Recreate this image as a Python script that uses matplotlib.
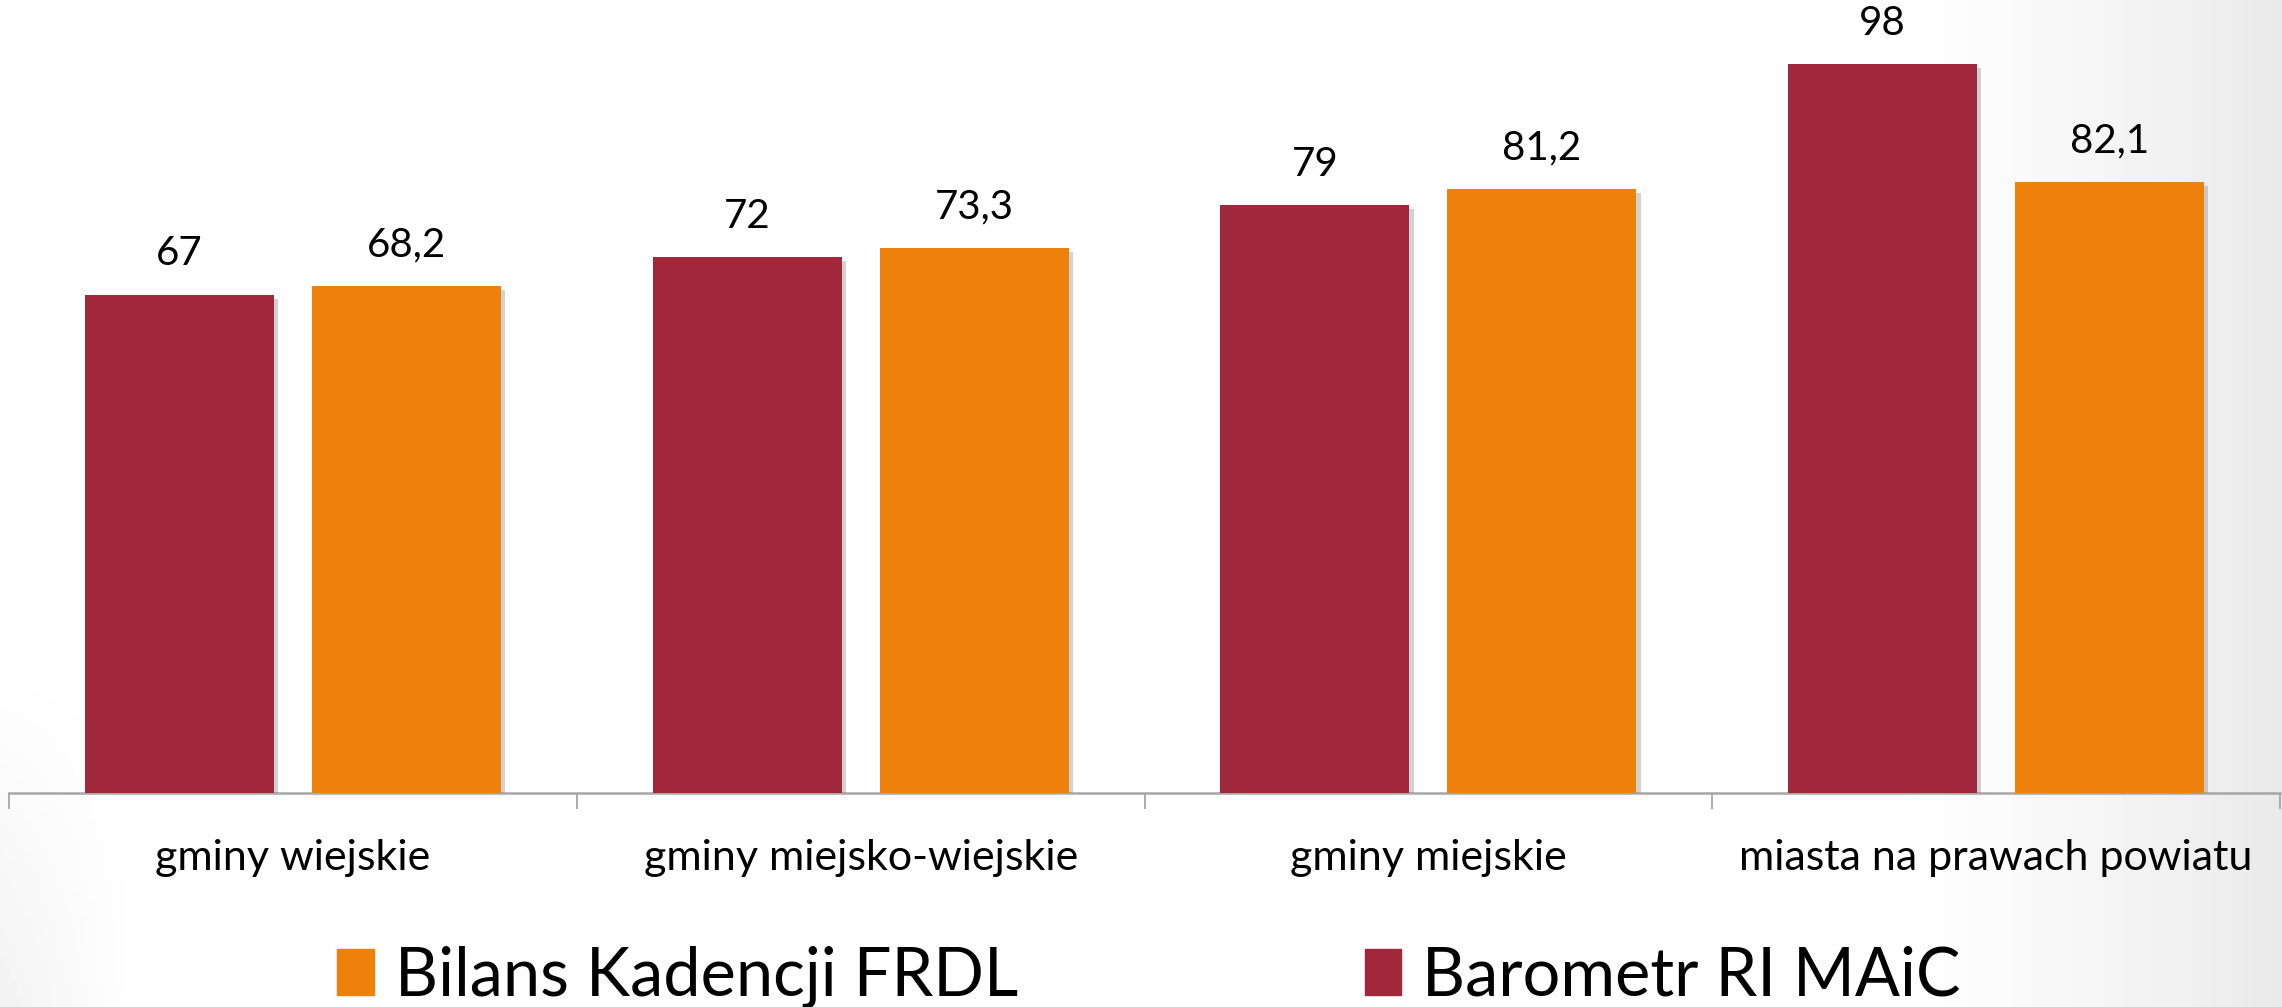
import matplotlib
matplotlib.use("Agg")
import matplotlib.pyplot as plt
import numpy as np
from matplotlib.patches import Patch
import matplotlib.patheffects as pe

categories = ["gminy wiejskie", "gminy miejsko-wiejskie", "gminy miejskie", "miasta na prawach powiatu"]
barometr = [67, 72, 79, 98]
bilans = [68.2, 73.3, 81.2, 82.1]
series_names = ["Bilans Kadencji FRDL", "Barometr RI MAiC"]

C_MAROON = "#A0283A"
C_ORANGE = "#EE800C"

plt.rcParams['font.family'] = ['Lato', 'DejaVu Sans']

W, H = 2282, 1007
fig = plt.figure(figsize=(W / 100, H / 100), dpi=100)

# background gradient (slide background)
bg = fig.add_axes([0, 0, 1, 1], zorder=-10)
xg = np.linspace(0, 1, 400)
yg = np.linspace(0, 1, 200)
XX, YY = np.meshgrid(xg, yg)
right = np.clip((XX - 0.82) / 0.18, 0, 1) ** 1.4 * 0.085
left = np.clip((0.06 - XX) / 0.06, 0, 1) * np.clip((0.35 - YY) / 0.35, 0, 1) * 0.05
img = 1 - right - left
bg.imshow(img, cmap="gray", vmin=0, vmax=1, aspect="auto",
          extent=[0, 1, 0, 1], origin="lower")
bg.set_axis_off()

ax = fig.add_axes([9 / W, 1 - 793 / H, 2271 / W, 105 * 7.44 / H])
ax.patch.set_alpha(0)
x = np.arange(len(categories))
bw = 0.333
off = 0.2
shadow = [pe.SimplePatchShadow(offset=(3, -3), shadow_rgbFace="gray", alpha=0.35), pe.Normal()]
b1 = ax.bar(x - off, barometr, bw, color=C_MAROON, zorder=3)
b2 = ax.bar(x + off, bilans, bw, color=C_ORANGE, zorder=3)
for bars in (b1, b2):
    for r in bars:
        r.set_path_effects(shadow)

def fmt(v):
    s = f"{v:g}"
    return s.replace(".", ",")

for bars, vals in ((b1, barometr), (b2, bilans)):
    for r, v in zip(bars, vals):
        ax.annotate(fmt(v), (r.get_x() + r.get_width() / 2, v), xytext=(0, 16),
                    textcoords="offset points", ha="center", va="bottom",
                    fontsize=29, color="black")

ax.set_xlim(-0.5, len(categories) - 0.5)
ax.set_ylim(0, 105)
ax.set_yticks([])
for s in ("left", "right", "top"):
    ax.spines[s].set_visible(False)
ax.spines["bottom"].set_color("#A6A6A6")
ax.spines["bottom"].set_linewidth(1.8)
ax.set_xticks(x)
ax.set_xticklabels(categories, fontsize=31)
ax.tick_params(axis="x", which="major", length=0, pad=33)
ax.set_xticks(np.arange(-0.5, len(categories), 1), minor=True)
ax.tick_params(axis="x", which="minor", length=11.5, width=1.3, color="#A6A6A6", direction="out")

handles = [Patch(color=C_ORANGE), Patch(color=C_MAROON)]
fig.legend(handles, series_names, loc="lower left", bbox_to_anchor=(304 / W, -34 / H),
           ncol=2, frameon=False, fontsize=48, handlelength=0.55, handleheight=0.7,
           handletextpad=0.31, columnspacing=5.2, borderpad=0)

fig.savefig("out.png", dpi=100)
